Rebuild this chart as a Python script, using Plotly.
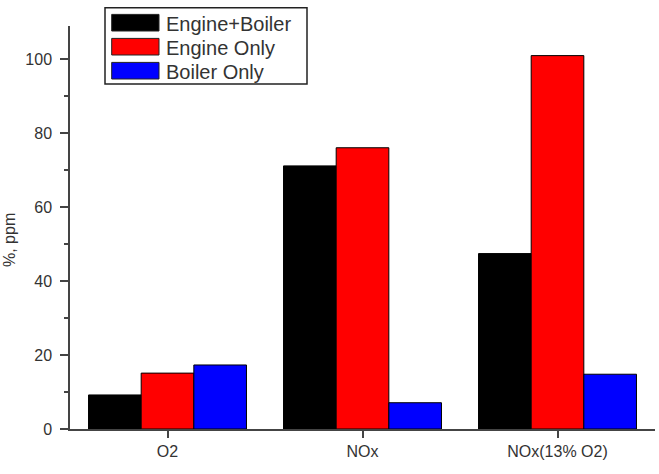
import plotly.graph_objects as go

categories = ["O2", "NOx", "NOx(13% O2)"]
series_names = ["Engine+Boiler", "Engine Only", "Boiler Only"]
engine_boiler = [9.2, 71.1, 47.4]
engine_only = [15.1, 76.0, 100.9]
boiler_only = [17.3, 7.1, 14.8]
series_values = [engine_boiler, engine_only, boiler_only]
series_colors = ["#000000", "#ff0000", "#0000ff"]
y_ticks = [0, 20, 40, 60, 80, 100]
y_title = "%, ppm"

FONT = "Liberation Sans, Arial, sans-serif"

fig = go.Figure()
for name, vals, col in zip(series_names, series_values, series_colors):
    fig.add_trace(go.Bar(
        x=categories, y=vals, name=name,
        marker=dict(color=col, line=dict(color="#000000", width=1)),
        showlegend=False,
    ))

# custom legend (box with wide swatches)
W, H = 585.0, 403.0
def px(x):
    return (x - 70) / W
def py(y):
    return (429 - y) / H

shapes = [dict(type="rect", xref="paper", yref="paper",
               x0=px(105), x1=px(307), y0=py(84), y1=py(7.7),
               line=dict(color="#222222", width=1.5), fillcolor="white", layer="above")]
annotations = []
for i, (name, col) in enumerate(zip(series_names, series_colors)):
    cy = 22.7 + 24 * i
    shapes.append(dict(type="rect", xref="paper", yref="paper",
                       x0=px(111.7), x1=px(159), y0=py(cy + 8.3), y1=py(cy - 8.3),
                       fillcolor=col, line=dict(color="#222222", width=1), layer="above"))
    annotations.append(dict(xref="paper", yref="paper", x=px(164), y=py(cy + 1),
                            text=name, showarrow=False, xanchor="left", yanchor="middle",
                            font=dict(family=FONT, size=20, color="#333333")))

annotations.append(dict(xref="paper", yref="paper", x=px(9), y=py(240), text=y_title,
                        showarrow=False, textangle=-90, xanchor="center", yanchor="middle",
                        font=dict(family=FONT, size=16, color="#333333")))

fig.update_layout(
    width=659, height=474,
    margin=dict(l=70, r=4, t=26, b=45),
    paper_bgcolor="white", plot_bgcolor="white",
    barmode="group", bargap=0.19, bargroupgap=0,
    font=dict(family=FONT, size=16, color="#333333"),
    shapes=shapes, annotations=annotations,
    showlegend=False,
)
fig.update_xaxes(
    range=[-0.5, 2.5], showline=True, linecolor="#444444", linewidth=1.5,
    ticks="outside", ticklen=7, tickcolor="#444444", tickwidth=1.5,
    showgrid=False, zeroline=False, tickfont=dict(size=16, color="#333333"),
)
fig.update_yaxes(
    range=[0, 108.9], showline=True, linecolor="#444444", linewidth=1.5,
    tickvals=y_ticks, ticks="outside", ticklen=8, tickcolor="#444444", tickwidth=1.5,
    minor=dict(tickvals=[10, 30, 50, 70, 90], ticks="outside", ticklen=4,
               tickcolor="#444444", tickwidth=1.5),
    showgrid=False, zeroline=False, tickfont=dict(size=16, color="#333333"),
    ticklabelstandoff=5,
)

fig.write_html("out.html")
